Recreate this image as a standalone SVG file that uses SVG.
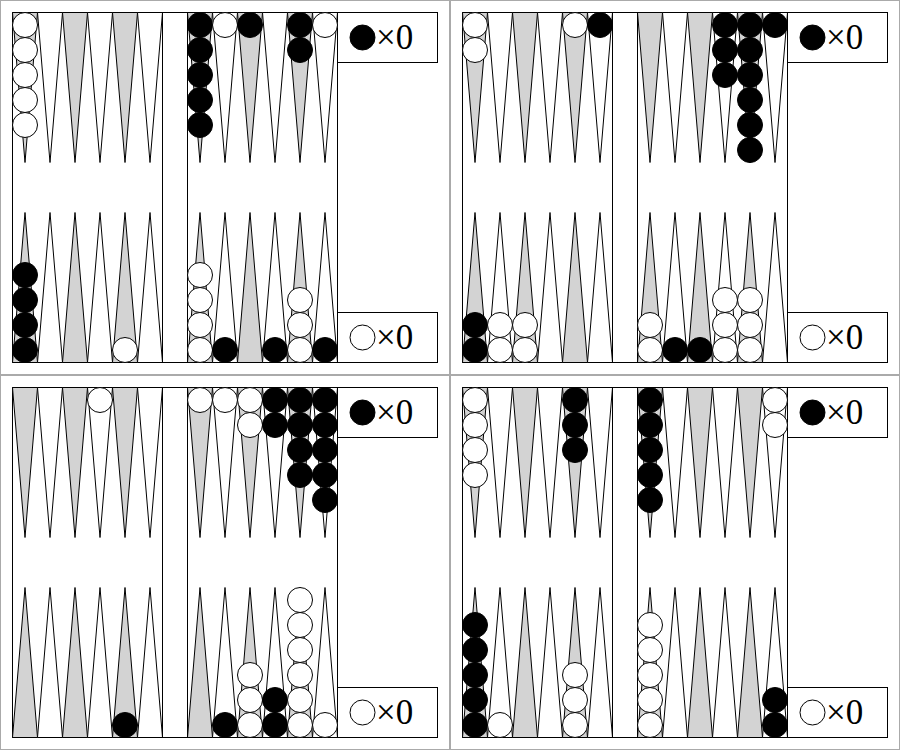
<svg xmlns="http://www.w3.org/2000/svg" xmlns:xlink="http://www.w3.org/1999/xlink" width="900" height="750" viewBox="0 0 900 750">
<style>
.cell{fill:#ffffff;stroke:#aaaaaa;stroke-width:1}
.frame{fill:#ffffff;stroke:#000000;stroke-width:1}
.pg{fill:#d3d3d3;stroke:#000000;stroke-width:1}
.pw{fill:#ffffff;stroke:#000000;stroke-width:1}
.cb{fill:#000000;stroke:#000000;stroke-width:1}
.cw{fill:#ffffff;stroke:#000000;stroke-width:1}
.score{font-family:"Liberation Serif","Times New Roman",serif;font-size:35px;fill:#000000}
</style>
<defs>
<g id="boardTpl">
<rect class="cell" x="0.5" y="0.5" width="449" height="374"/>
<rect class="frame" x="12.5" y="12.5" width="325" height="350"/>
<polygon class="pg" points="12.5,12.5 37.5,12.5 25,162.5"/>
<polygon class="pw" points="37.5,12.5 62.5,12.5 50,162.5"/>
<polygon class="pg" points="62.5,12.5 87.5,12.5 75,162.5"/>
<polygon class="pw" points="87.5,12.5 112.5,12.5 100,162.5"/>
<polygon class="pg" points="112.5,12.5 137.5,12.5 125,162.5"/>
<polygon class="pw" points="137.5,12.5 162.5,12.5 150,162.5"/>
<polygon class="pg" points="187.5,12.5 212.5,12.5 200,162.5"/>
<polygon class="pw" points="212.5,12.5 237.5,12.5 225,162.5"/>
<polygon class="pg" points="237.5,12.5 262.5,12.5 250,162.5"/>
<polygon class="pw" points="262.5,12.5 287.5,12.5 275,162.5"/>
<polygon class="pg" points="287.5,12.5 312.5,12.5 300,162.5"/>
<polygon class="pw" points="312.5,12.5 337.5,12.5 325,162.5"/>
<polygon class="pg" points="12.5,362.5 37.5,362.5 25,212.5"/>
<polygon class="pw" points="37.5,362.5 62.5,362.5 50,212.5"/>
<polygon class="pg" points="62.5,362.5 87.5,362.5 75,212.5"/>
<polygon class="pw" points="87.5,362.5 112.5,362.5 100,212.5"/>
<polygon class="pg" points="112.5,362.5 137.5,362.5 125,212.5"/>
<polygon class="pw" points="137.5,362.5 162.5,362.5 150,212.5"/>
<polygon class="pg" points="187.5,362.5 212.5,362.5 200,212.5"/>
<polygon class="pw" points="212.5,362.5 237.5,362.5 225,212.5"/>
<polygon class="pg" points="237.5,362.5 262.5,362.5 250,212.5"/>
<polygon class="pw" points="262.5,362.5 287.5,362.5 275,212.5"/>
<polygon class="pg" points="287.5,362.5 312.5,362.5 300,212.5"/>
<polygon class="pw" points="312.5,362.5 337.5,362.5 325,212.5"/>
<rect class="frame" x="162.5" y="12.5" width="25" height="350"/>
<rect class="frame" x="337.5" y="12.5" width="100" height="50"/>
<circle class="cb" cx="362.5" cy="37.5" r="12.5"/>
<text class="score" x="376" y="49">×0</text>
<rect class="frame" x="337.5" y="312.5" width="100" height="50"/>
<circle class="cw" cx="362.5" cy="337.5" r="12.5"/>
<text class="score" x="376" y="349">×0</text>
</g>
</defs>

<g id="board1">
<use xlink:href="#boardTpl"/>
<circle class="cw" cx="25" cy="25" r="12.5"/><circle class="cw" cx="25" cy="50" r="12.5"/><circle class="cw" cx="25" cy="75" r="12.5"/><circle class="cw" cx="25" cy="100" r="12.5"/><circle class="cw" cx="25" cy="125" r="12.5"/>
<circle class="cb" cx="200" cy="25" r="12.5"/><circle class="cb" cx="200" cy="50" r="12.5"/><circle class="cb" cx="200" cy="75" r="12.5"/><circle class="cb" cx="200" cy="100" r="12.5"/><circle class="cb" cx="200" cy="125" r="12.5"/>
<circle class="cw" cx="225" cy="25" r="12.5"/>
<circle class="cb" cx="250" cy="25" r="12.5"/>
<circle class="cb" cx="300" cy="25" r="12.5"/><circle class="cb" cx="300" cy="50" r="12.5"/>
<circle class="cw" cx="325" cy="25" r="12.5"/>
<circle class="cb" cx="25" cy="350" r="12.5"/><circle class="cb" cx="25" cy="325" r="12.5"/><circle class="cb" cx="25" cy="300" r="12.5"/><circle class="cb" cx="25" cy="275" r="12.5"/>
<circle class="cw" cx="125" cy="350" r="12.5"/>
<circle class="cw" cx="200" cy="350" r="12.5"/><circle class="cw" cx="200" cy="325" r="12.5"/><circle class="cw" cx="200" cy="300" r="12.5"/><circle class="cw" cx="200" cy="275" r="12.5"/>
<circle class="cb" cx="225" cy="350" r="12.5"/>
<circle class="cb" cx="275" cy="350" r="12.5"/>
<circle class="cw" cx="300" cy="350" r="12.5"/><circle class="cw" cx="300" cy="325" r="12.5"/><circle class="cw" cx="300" cy="300" r="12.5"/>
<circle class="cb" cx="325" cy="350" r="12.5"/>
</g>

<g id="board2" transform="translate(450,0)">
<use xlink:href="#boardTpl"/>
<circle class="cw" cx="25" cy="25" r="12.5"/><circle class="cw" cx="25" cy="50" r="12.5"/>
<circle class="cw" cx="125" cy="25" r="12.5"/>
<circle class="cb" cx="150" cy="25" r="12.5"/>
<circle class="cb" cx="275" cy="25" r="12.5"/><circle class="cb" cx="275" cy="50" r="12.5"/><circle class="cb" cx="275" cy="75" r="12.5"/>
<circle class="cb" cx="300" cy="25" r="12.5"/><circle class="cb" cx="300" cy="50" r="12.5"/><circle class="cb" cx="300" cy="75" r="12.5"/><circle class="cb" cx="300" cy="100" r="12.5"/><circle class="cb" cx="300" cy="125" r="12.5"/><circle class="cb" cx="300" cy="150" r="12.5"/>
<circle class="cb" cx="325" cy="25" r="12.5"/>
<circle class="cb" cx="25" cy="350" r="12.5"/><circle class="cb" cx="25" cy="325" r="12.5"/>
<circle class="cw" cx="50" cy="350" r="12.5"/><circle class="cw" cx="50" cy="325" r="12.5"/>
<circle class="cw" cx="75" cy="350" r="12.5"/><circle class="cw" cx="75" cy="325" r="12.5"/>
<circle class="cw" cx="200" cy="350" r="12.5"/><circle class="cw" cx="200" cy="325" r="12.5"/>
<circle class="cb" cx="225" cy="350" r="12.5"/>
<circle class="cb" cx="250" cy="350" r="12.5"/>
<circle class="cw" cx="275" cy="350" r="12.5"/><circle class="cw" cx="275" cy="325" r="12.5"/><circle class="cw" cx="275" cy="300" r="12.5"/>
<circle class="cw" cx="300" cy="350" r="12.5"/><circle class="cw" cx="300" cy="325" r="12.5"/><circle class="cw" cx="300" cy="300" r="12.5"/>
</g>

<g id="board3" transform="translate(0,375)">
<use xlink:href="#boardTpl"/>
<circle class="cw" cx="100" cy="25" r="12.5"/>
<circle class="cw" cx="200" cy="25" r="12.5"/>
<circle class="cw" cx="225" cy="25" r="12.5"/>
<circle class="cw" cx="250" cy="25" r="12.5"/><circle class="cw" cx="250" cy="50" r="12.5"/>
<circle class="cb" cx="275" cy="25" r="12.5"/><circle class="cb" cx="275" cy="50" r="12.5"/>
<circle class="cb" cx="300" cy="25" r="12.5"/><circle class="cb" cx="300" cy="50" r="12.5"/><circle class="cb" cx="300" cy="75" r="12.5"/><circle class="cb" cx="300" cy="100" r="12.5"/>
<circle class="cb" cx="325" cy="25" r="12.5"/><circle class="cb" cx="325" cy="50" r="12.5"/><circle class="cb" cx="325" cy="75" r="12.5"/><circle class="cb" cx="325" cy="100" r="12.5"/><circle class="cb" cx="325" cy="125" r="12.5"/>
<circle class="cb" cx="125" cy="350" r="12.5"/>
<circle class="cb" cx="225" cy="350" r="12.5"/>
<circle class="cw" cx="250" cy="350" r="12.5"/><circle class="cw" cx="250" cy="325" r="12.5"/><circle class="cw" cx="250" cy="300" r="12.5"/>
<circle class="cb" cx="275" cy="350" r="12.5"/><circle class="cb" cx="275" cy="325" r="12.5"/>
<circle class="cw" cx="300" cy="350" r="12.5"/><circle class="cw" cx="300" cy="325" r="12.5"/><circle class="cw" cx="300" cy="300" r="12.5"/><circle class="cw" cx="300" cy="275" r="12.5"/><circle class="cw" cx="300" cy="250" r="12.5"/><circle class="cw" cx="300" cy="225" r="12.5"/>
<circle class="cw" cx="325" cy="350" r="12.5"/>
</g>

<g id="board4" transform="translate(450,375)">
<use xlink:href="#boardTpl"/>
<circle class="cw" cx="25" cy="25" r="12.5"/><circle class="cw" cx="25" cy="50" r="12.5"/><circle class="cw" cx="25" cy="75" r="12.5"/><circle class="cw" cx="25" cy="100" r="12.5"/>
<circle class="cb" cx="125" cy="25" r="12.5"/><circle class="cb" cx="125" cy="50" r="12.5"/><circle class="cb" cx="125" cy="75" r="12.5"/>
<circle class="cb" cx="200" cy="25" r="12.5"/><circle class="cb" cx="200" cy="50" r="12.5"/><circle class="cb" cx="200" cy="75" r="12.5"/><circle class="cb" cx="200" cy="100" r="12.5"/><circle class="cb" cx="200" cy="125" r="12.5"/>
<circle class="cw" cx="325" cy="25" r="12.5"/><circle class="cw" cx="325" cy="50" r="12.5"/>
<circle class="cb" cx="25" cy="350" r="12.5"/><circle class="cb" cx="25" cy="325" r="12.5"/><circle class="cb" cx="25" cy="300" r="12.5"/><circle class="cb" cx="25" cy="275" r="12.5"/><circle class="cb" cx="25" cy="250" r="12.5"/>
<circle class="cw" cx="50" cy="350" r="12.5"/>
<circle class="cw" cx="125" cy="350" r="12.5"/><circle class="cw" cx="125" cy="325" r="12.5"/><circle class="cw" cx="125" cy="300" r="12.5"/>
<circle class="cw" cx="200" cy="350" r="12.5"/><circle class="cw" cx="200" cy="325" r="12.5"/><circle class="cw" cx="200" cy="300" r="12.5"/><circle class="cw" cx="200" cy="275" r="12.5"/><circle class="cw" cx="200" cy="250" r="12.5"/>
<circle class="cb" cx="325" cy="350" r="12.5"/><circle class="cb" cx="325" cy="325" r="12.5"/>
</g>
</svg>
